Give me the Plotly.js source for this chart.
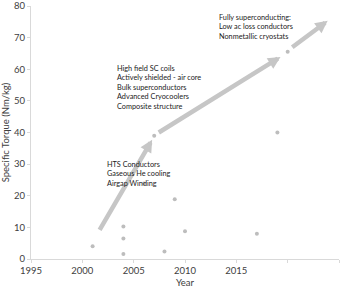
<!DOCTYPE html>
<html>
<head>
<meta charset="utf-8">
<script src="https://cdn.plot.ly/plotly-3.0.1.min.js"></script>
<style>html,body{margin:0;padding:0;background:#fff}#chart{width:350px;height:288px}</style>
</head>
<body>
<div id="chart"></div>
<script>
// Data points (year, specific torque)
var years  = [2001, 2004, 2004, 2004, 2006, 2007, 2008, 2009, 2010, 2017, 2019, 2020];
var torque = [4.0, 10.3, 6.5, 1.6, 23.9, 39.0, 2.4, 18.9, 8.8, 8.0, 40.0, 65.5];

// Trend arrows (tail -> head)
var arrowTailX = [2001.6, 2007.3, 2020.3];
var arrowTailY = [8.7, 39.7, 66.6];
var arrowHeadX = [2006.8, 2019.3, 2023.9];
var arrowHeadY = [37.7, 63.9, 75.3];

// Text blocks
var noteX = [2002.2, 2003.15, 2013.15];
var noteY = [31.8, 62.4, 78.4];
var noteText = [
  "HTS Conductors<br>Gaseous He cooling<br>Airgap Winding",
  "High field SC coils<br>Actively shielded - air core<br>Bulk superconductors<br>Advanced Cryocoolers<br>Composite structure",
  "Fully superconducting:<br>Low ac loss conductors<br>Nonmetallic cryostats"
];

var xTickVals = [1995, 2000, 2005, 2010, 2015, 2020, 2025];
var xTickText = ["1995", "2000", "2005", "2010", "2015", "", ""];
var yTickVals = [0, 10, 20, 30, 40, 50, 60, 70, 80];

var FONT = "Lato, 'Open Sans', sans-serif";
var annotations = [];
for (var i = 0; i < arrowTailX.length; i++) {
  annotations.push({
    x: arrowHeadX[i], y: arrowHeadY[i], xref: 'x', yref: 'y',
    ax: arrowTailX[i], ay: arrowTailY[i], axref: 'x', ayref: 'y',
    text: '', showarrow: true, arrowhead: 2, arrowsize: 0.55,
    arrowwidth: 4.5, arrowcolor: '#c6c6c6', standoff: 0, startstandoff: 0
  });
}
for (var j = 0; j < noteText.length; j++) {
  annotations.push({
    x: noteX[j], y: noteY[j], xref: 'x', yref: 'y',
    text: noteText[j], showarrow: false, xanchor: 'left', yanchor: 'top',
    align: 'left', font: {family: FONT, size: 7.3, color: '#222222'}
  });
}

var trace = {
  x: years, y: torque, type: 'scatter', mode: 'markers',
  marker: {color: '#bdbdbd', size: 4}, hoverinfo: 'skip', cliponaxis: false
};

var layout = {
  width: 350, height: 288,
  margin: {l: 31, r: 11, t: 6, b: 29},
  paper_bgcolor: '#fff', plot_bgcolor: '#fff',
  showlegend: false,
  font: {family: FONT, color: '#404040'},
  xaxis: {
    range: [1995, 2025], tickvals: xTickVals, ticktext: xTickText,
    showgrid: false, zeroline: false, showline: true, linecolor: '#d9d9d9', linewidth: 1,
    ticks: 'outside', ticklen: 3, tickcolor: '#d9d9d9', ticklabeloverflow: 'allow',
    tickfont: {family: FONT, size: 9.5, color: '#404040'},
    title: {text: 'Year', font: {family: FONT, size: 9.5, color: '#404040'}, standoff: 3}
  },
  yaxis: {
    range: [0, 80], tickvals: yTickVals,
    showgrid: false, zeroline: false, showline: true, linecolor: '#d9d9d9', linewidth: 1,
    ticks: 'outside', ticklen: 3, tickcolor: '#d9d9d9', ticklabeloverflow: 'allow',
    tickfont: {family: FONT, size: 9.5, color: '#404040'},
    title: {text: 'Specific Torque (Nm/kg)', font: {family: FONT, size: 9.5, color: '#404040'}, standoff: 2}
  },
  annotations: annotations
};

Plotly.newPlot('chart', [trace], layout, {displayModeBar: false, staticPlot: true});
</script>
</body>
</html>
